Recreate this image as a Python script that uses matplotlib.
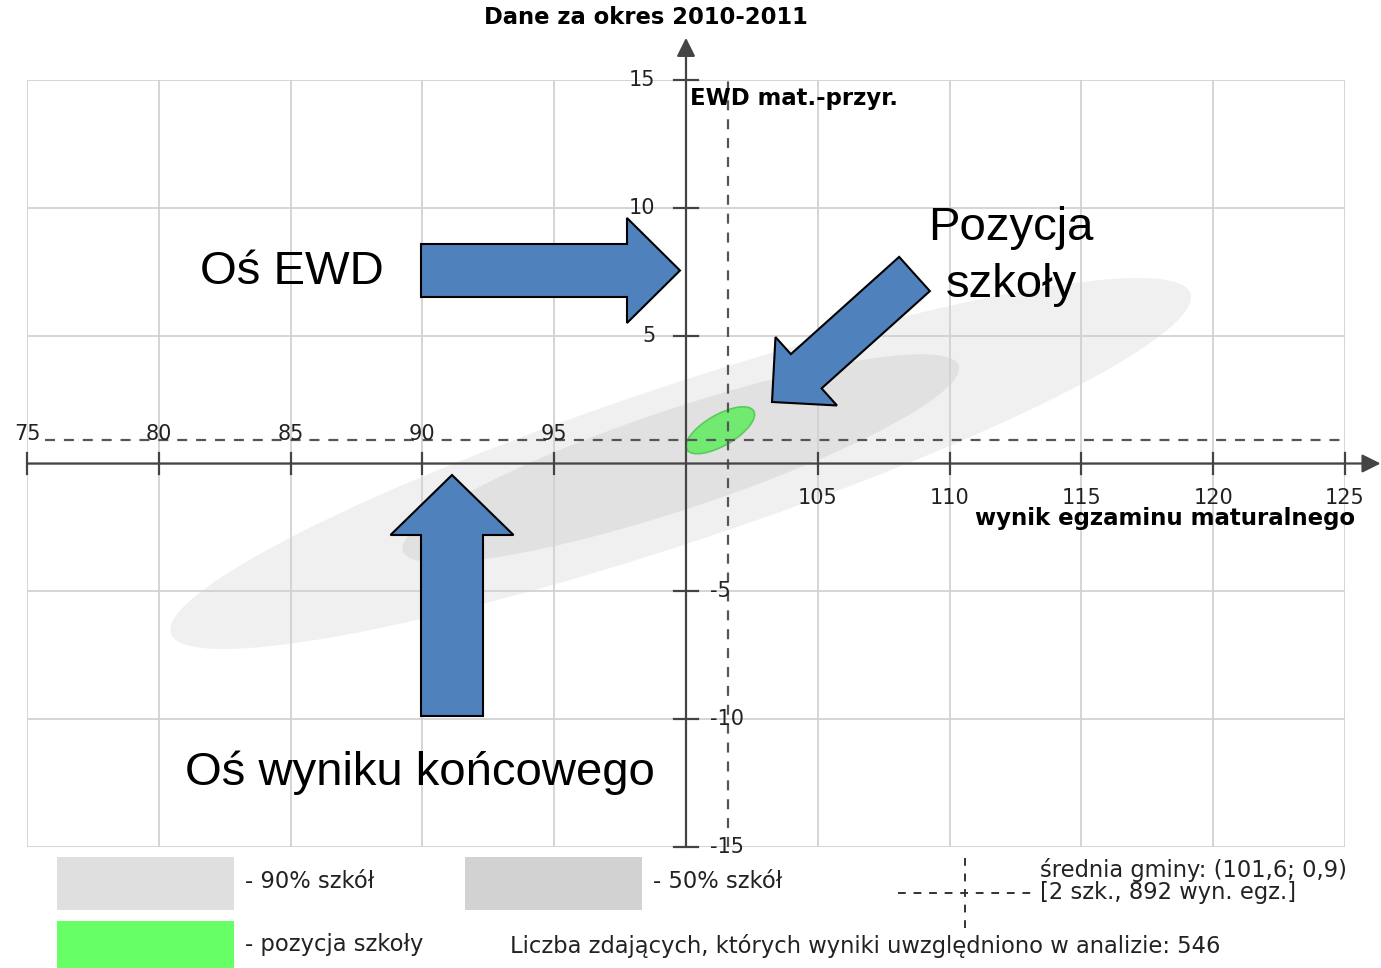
import matplotlib
matplotlib.use("Agg")
import matplotlib.pyplot as plt
import matplotlib.patches as mpatches
import matplotlib.transforms as mtransforms

# --- data ---
x_ticks = [75, 80, 85, 90, 95, 100, 105, 110, 115, 120, 125]
y_ticks = [-15, -10, -5, 0, 5, 10, 15]
x_labels_above = [75, 80, 85, 90, 95]
x_labels_below = [105, 110, 115, 120, 125]
y_labels_pos = [15, 10, 5]
y_labels_neg = [-5, -10, -15]

# ellipses: (center x, center y, width, height, angle)
ell_90 = (99.8, 0.0, 40.9, 6.1, 19.0)
ell_50 = (99.8, 0.2, 22.3, 3.9, 19.0)
ell_school = (101.3, 1.3, 2.95, 1.2, 31.0)

gmina_mean = (101.6, 0.9)
n_students = 546

W, H = 1381, 968
fig = plt.figure(figsize=(W / 100, H / 100), dpi=100)
fig.patch.set_facecolor("white")
# pixel coordinates (y pointing down) for the decorations
px = mtransforms.Affine2D().scale(1 / W, -1 / H).translate(0, 1) + fig.transFigure

ax = fig.add_axes([27 / W, (H - 847) / H, 1318 / W, 767 / H])
ax.set_xlim(75, 125)
ax.set_ylim(-15, 15)
ax.set_xticks([])
ax.set_yticks([])
for s in ax.spines.values():
    s.set_visible(False)

grid_c = "#d2d2d2"
for x in x_ticks:
    ax.axvline(x, color=grid_c, lw=1.3, zorder=2)
for y in y_ticks:
    ax.axhline(y, color=grid_c, lw=1.3, zorder=2)

# ellipses
for (cx, cy, w, h, a), fc, z in [(ell_90, "#f0f0f0", 1), (ell_50, "#e1e1e1", 1.1)]:
    ax.add_patch(mpatches.Ellipse((cx, cy), w, h, angle=a, facecolor=fc, edgecolor="none", zorder=z))
cx, cy, w, h, a = ell_school
ax.add_patch(mpatches.Ellipse((cx, cy), w, h, angle=a, facecolor="#72ea72", edgecolor="#5cc95c", lw=1.2, zorder=3))

# mean of gmina (dashed cross)
ax.plot([75.7, 125], [gmina_mean[1]] * 2, color="#555555", lw=1.6, dashes=(4.5, 4), zorder=4)
ax.plot([gmina_mean[0]] * 2, [-15, 15], color="#555555", lw=1.6, dashes=(4.5, 4), zorder=4)

# axis lines with arrows
ax_c = "#444444"
ax.annotate("", xy=(126.35, 0), xytext=(75, 0), annotation_clip=False, zorder=5,
            arrowprops=dict(arrowstyle="-|>", color=ax_c, lw=1.6, mutation_scale=28, shrinkA=0, shrinkB=0))
ax.annotate("", xy=(100, 16.65), xytext=(100, -15), annotation_clip=False, zorder=5,
            arrowprops=dict(arrowstyle="-|>", color=ax_c, lw=1.6, mutation_scale=28, shrinkA=0, shrinkB=0))
for x in x_ticks:
    if x != 100:
        ax.plot([x, x], [-0.43, 0.43], color=ax_c, lw=1.6, zorder=5, clip_on=False)
for y in y_ticks:
    if y != 0:
        ax.plot([99.55, 100.45], [y, y], color=ax_c, lw=1.6, zorder=5, clip_on=False)

tick_fs = 15
for x in x_labels_above:
    ax.text(x, 1.17, str(x), ha="center", va="center", fontsize=tick_fs, color="#222222", zorder=6)
for x in x_labels_below:
    ax.text(x, -1.33, str(x), ha="center", va="center", fontsize=tick_fs, color="#222222", zorder=6)
for y in y_labels_pos:
    ax.text(98.85, y, str(y), ha="right", va="center", fontsize=tick_fs, color="#222222", zorder=6)
for y in y_labels_neg:
    ax.text(100.9, y, str(y), ha="left", va="center", fontsize=tick_fs, color="#222222", zorder=6)

ax.text(100.15, 14.27, "EWD mat.-przyr.", ha="left", va="center", fontsize=16.4, fontweight="bold", zorder=6)
ax.text(125.38, -2.15, "wynik egzaminu maturalnego", ha="right", va="center", fontsize=16.5,
        fontweight="bold", zorder=6, clip_on=False)
fig.text(646, 18, "Dane za okres 2010-2011", transform=px, ha="center", va="center",
         fontsize=16.3, fontweight="bold")

# legend
leg_fs = 16.3
fig.patches.append(mpatches.Rectangle((57, 857), 177, 53, transform=px, facecolor="#dfdfdf", edgecolor="none"))
fig.patches.append(mpatches.Rectangle((465, 857), 177, 53, transform=px, facecolor="#d2d2d2", edgecolor="none"))
fig.patches.append(mpatches.Rectangle((57, 921), 177, 50, transform=px, facecolor="#66ff66", edgecolor="none"))
fig.text(245, 881, "- 90% szkół", transform=px, ha="left", va="center", fontsize=leg_fs, color="#222222")
fig.text(653, 881, "- 50% szkół", transform=px, ha="left", va="center", fontsize=leg_fs, color="#222222")
fig.text(245, 944, "- pozycja szkoły", transform=px, ha="left", va="center", fontsize=leg_fs, color="#222222")
fig.text(510, 946, f"Liczba zdających, których wyniki uwzględniono w analizie: {n_students}",
         transform=px, ha="left", va="center", fontsize=leg_fs, color="#222222")
fig.lines.append(plt.Line2D([898, 1035], [893, 893], transform=px, color="#333333", lw=1.4, dashes=(4, 4)))
fig.lines.append(plt.Line2D([965, 965], [858, 928], transform=px, color="#333333", lw=1.4, dashes=(4, 4)))
mx = f"{gmina_mean[0]:.1f}".replace(".", ",")
my = f"{gmina_mean[1]:.1f}".replace(".", ",")
fig.text(1040, 870, f"średnia gminy: ({mx}; {my})", transform=px, ha="left", va="center",
         fontsize=leg_fs, color="#222222")
fig.text(1040, 893, "[2 szk., 892 wyn. egz.]", transform=px, ha="left", va="center",
         fontsize=leg_fs, color="#222222")

# blue arrows with captions (overlay, pixel coords)
arrow_kw = dict(transform=px, facecolor="#4f81bd", edgecolor="black", lw=1.5,
                length_includes_head=True, zorder=10)
fig.patches.append(mpatches.FancyArrow(421, 270.5, 259, 0, width=53, head_width=105, head_length=53, **arrow_kw))
fig.patches.append(mpatches.FancyArrow(452, 716, 0, -241, width=62, head_width=123, head_length=60, **arrow_kw))
fig.patches.append(mpatches.FancyArrow(914.5, 274, -142.5, 128, width=46, head_width=92, head_length=46, **arrow_kw))

cap_kw = dict(transform=px, fontsize=34, family="Liberation Sans", color="black")
fig.text(200, 272, "Oś EWD", ha="left", va="center", **cap_kw)
fig.text(1011, 228, "Pozycja", ha="center", va="center", **cap_kw)
fig.text(1011, 285, "szkoły", ha="center", va="center", **cap_kw)
fig.text(185, 773, "Oś wyniku końcowego", ha="left", va="center", **cap_kw)

fig.savefig("out.png", dpi=100, facecolor="white")
